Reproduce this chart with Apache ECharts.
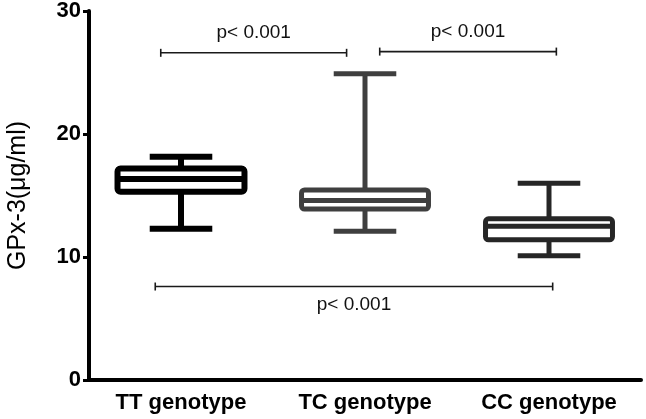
<!DOCTYPE html>
<html>
<head>
<meta charset="utf-8">
<script src="https://cdn.jsdelivr.net/npm/echarts@6/dist/echarts.min.js"></script>
<style>
  html, body { margin: 0; padding: 0; background: #fff; }
  #chart { width: 646px; height: 419px; }
</style>
</head>
<body>
<div id="chart"></div>
<script>
// groups and box statistics
var categories = ['TT genotype', 'TC genotype', 'CC genotype'];
var whiskerLow = [12.3, 12.1, 10.1];
var q1 = [15.3, 13.9, 11.4];
var median = [16.35, 14.6, 12.5];
var q3 = [17.2, 15.45, 13.1];
var whiskerHigh = [18.15, 24.9, 16.0];
var boxColors = ['#000000', '#3f3f3f', '#262626'];

// significance brackets, x in category units (0..3), y in µg/ml
var bracketStart = [0.39, 1.58, 0.36];
var bracketEnd = [1.40, 2.54, 2.52];
var bracketLevel = [26.6, 26.7, 7.6];
var bracketText = ['p< 0.001', 'p< 0.001', 'p< 0.001'];
var bracketSide = ['above', 'above', 'below'];

var fontFamily = 'Liberation Sans';

var boxData = categories.map(function (c, i) {
    return [i, whiskerLow[i], q1[i], median[i], q3[i], whiskerHigh[i]];
});
var bracketData = bracketStart.map(function (s, i) {
    return [s, bracketEnd[i], bracketLevel[i], i];
});

var myChart = echarts.init(document.getElementById('chart'));

function renderBox(params, api) {
    var idx = api.value(0);
    var pMin = api.coord([idx, api.value(1)]);
    var pQ1 = api.coord([idx, api.value(2)]);
    var pMed = api.coord([idx, api.value(3)]);
    var pQ3 = api.coord([idx, api.value(4)]);
    var pMax = api.coord([idx, api.value(5)]);
    var band = api.size([1, 0])[0];
    var cx = pMed[0];
    var boxW = band * 0.69;
    var capW = band * 0.34;
    var color = boxColors[idx];
    var lw = idx === 0 ? 6 : 5;
    var st = { stroke: color, lineWidth: lw, fill: null };
    return {
        type: 'group',
        children: [
            { type: 'line', shape: { x1: cx, y1: pQ3[1], x2: cx, y2: pMax[1] }, style: st },
            { type: 'line', shape: { x1: cx - capW / 2, y1: pMax[1], x2: cx + capW / 2, y2: pMax[1] }, style: st },
            { type: 'line', shape: { x1: cx, y1: pQ1[1], x2: cx, y2: pMin[1] }, style: st },
            { type: 'line', shape: { x1: cx - capW / 2, y1: pMin[1], x2: cx + capW / 2, y2: pMin[1] }, style: st },
            {
                type: 'rect',
                shape: { x: cx - boxW / 2, y: pQ3[1], width: boxW, height: pQ1[1] - pQ3[1], r: 3 },
                style: { stroke: color, lineWidth: lw, fill: '#ffffff' }
            },
            { type: 'line', shape: { x1: cx - boxW / 2, y1: pMed[1], x2: cx + boxW / 2, y2: pMed[1] }, style: st }
        ]
    };
}

function renderBracket(params, api) {
    var i = api.value(3);
    var a = api.coord([api.value(0), api.value(2)]);
    var b = api.coord([api.value(1), api.value(2)]);
    var st = { stroke: '#1a1a1a', lineWidth: 1.6 };
    var up = bracketSide[i] === 'above';
    return {
        type: 'group',
        children: [
            { type: 'line', shape: { x1: a[0], y1: a[1], x2: b[0], y2: b[1] }, style: st },
            { type: 'line', shape: { x1: a[0], y1: a[1] - 4, x2: a[0], y2: a[1] + 4 }, style: st },
            { type: 'line', shape: { x1: b[0], y1: b[1] - 4, x2: b[0], y2: b[1] + 4 }, style: st },
            {
                type: 'text',
                x: (a[0] + b[0]) / 2,
                y: up ? a[1] - 20 : a[1] + 18,
                style: {
                    text: bracketText[i],
                    fill: '#111',
                    fontSize: 19,
                    fontFamily: fontFamily,
                    align: 'center',
                    verticalAlign: 'middle'
                }
            }
        ]
    };
}

var option = {
    animation: false,
    backgroundColor: '#ffffff',
    grid: {
        left: 89, right: 5, top: 11, bottom: 39,
        containLabel: false, outerBoundsMode: 'none'
    },
    xAxis: [
        {
            type: 'category',
            data: categories,
            axisLine: { lineStyle: { color: '#000', width: 4 } },
            axisTick: { alignWithLabel: true, length: 6, lineStyle: { color: '#000', width: 3 } },
            axisLabel: {
                color: '#000', fontWeight: 'bold', fontSize: 22,
                fontFamily: fontFamily, margin: 12,
                interval: 0, hideOverlap: false
            }
        },
        {
            type: 'value', min: 0, max: 3, show: false
        }
    ],
    yAxis: {
        type: 'value',
        min: 0,
        max: 30,
        interval: 10,
        name: 'GPx-3(\u03bcg/ml)',
        nameLocation: 'middle',
        nameGap: 58,
        nameTextStyle: { color: '#000', fontSize: 25, fontFamily: fontFamily },
        axisLine: { show: true, lineStyle: { color: '#000', width: 4 } },
        axisTick: { show: true, length: 6, lineStyle: { color: '#000', width: 3 } },
        axisLabel: {
            color: '#000', fontWeight: 'bold', fontSize: 22,
            fontFamily: fontFamily, margin: 8
        },
        splitLine: { show: false }
    },
    series: [
        {
            type: 'custom',
            xAxisIndex: 0,
            renderItem: renderBox,
            encode: { x: 0, y: [1, 2, 3, 4, 5] },
            data: boxData,
            clip: false,
            z: 3
        },
        {
            type: 'custom',
            xAxisIndex: 1,
            renderItem: renderBracket,
            encode: { x: [0, 1], y: 2 },
            data: bracketData,
            clip: false,
            z: 4
        }
    ]
};

myChart.setOption(option);
</script>
</body>
</html>
